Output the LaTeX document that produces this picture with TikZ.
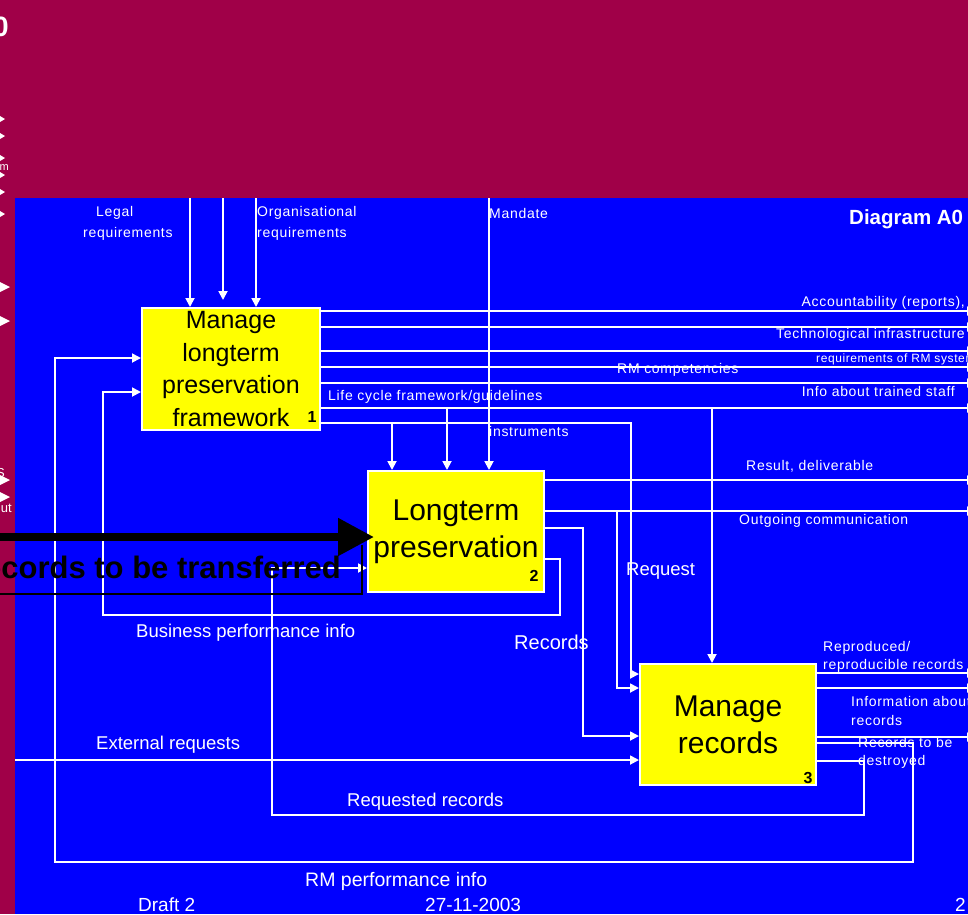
\documentclass[tikz,border=0pt]{standalone}
\usepackage{fontspec}
\setmainfont{Liberation Sans}
\newfontfamily\spacedsf[LetterSpace=5]{Liberation Sans}
\usetikzlibrary{arrows.meta,calc}
\definecolor{maroonbg}{RGB}{160,0,72}
\definecolor{bluebg}{RGB}{0,0,255}
\definecolor{boxyellow}{RGB}{255,255,0}
\begin{document}
\begin{tikzpicture}[x=1pt,y=-1pt,
  flow/.style={draw=white,line width=1.8pt,-{Triangle[length=9pt,width=9pt]}},
  wline/.style={draw=white,line width=1.8pt},
  actbox/.style={draw=white,line width=2pt,fill=boxyellow,inner sep=0pt,align=center,text=black},
  lbl/.style={text=white,inner sep=0pt,font=\spacedsf\fontsize{14}{16}\selectfont},
  slbl/.style={text=white,inner sep=0pt,font=\spacedsf\fontsize{12}{14}\selectfont},
  blbl/.style={text=white,inner sep=0pt,font=\fontsize{18.5}{21}\selectfont},
  num/.style={text=black,inner sep=0pt,font=\bfseries\fontsize{16}{18}\selectfont},
  tick/.style={fill=white},
]
\useasboundingbox (0,0) rectangle (968,914);
\clip (0,0) rectangle (968,914);
% backgrounds
\fill[maroonbg] (0,0) rectangle (968,914);
\fill[bluebg] (15,198) rectangle (968,914);

% remnants at the left edge
\node[anchor=east,inner sep=0pt,text=white,font=\bfseries\fontsize{28}{30}\selectfont] (rem0) at (9,27) {0};
\foreach \yy in {119,136,158,175,192,214}
  \fill[tick] (0,\yy-3) -- (5,\yy) -- (0,\yy+3) -- cycle;
\node[anchor=east,inner sep=0pt,text=white,font=\fontsize{11}{12}\selectfont] (remm) at (9,168) {m};
\foreach \yy in {287,321,480,497}
  \fill[tick] (0,\yy-5) -- (10,\yy) -- (0,\yy+5) -- cycle;
\node[anchor=east,inner sep=0pt,text=white,font=\fontsize{13}{14}\selectfont] (remS) at (5,473) {S};
\node[anchor=east,inner sep=0pt,text=white,font=\fontsize{13}{14}\selectfont] (remut) at (12,508) {ut};

% activity boxes
\node[actbox,minimum width=178pt,minimum height=122pt,font=\fontsize{25}{32.5}\selectfont] (b1) at (231,369) {Manage\\longterm\\preservation\\framework};
\node[actbox,minimum width=176pt,minimum height=121pt,font=\fontsize{30}{37}\selectfont] (b2) at (456,531.5) {Longterm\\preservation};
\node[actbox,minimum width=176pt,minimum height=121pt,font=\fontsize{30}{37}\selectfont] (b3) at (728,724.5) {Manage\\records};

% controls from the top
\coordinate (tL) at (190,198);
\coordinate (tM) at (223,198);
\coordinate (tMe) at (223,300);
\coordinate (tO) at (256,198);
\coordinate (tMan) at (489,198);
\draw[flow] (tL) -- (190,198 |- b1.north);
\draw[flow] (tM) -- (tMe);
\draw[flow] (tO) -- (256,198 |- b1.north);
\draw[flow] (tMan) -- (489,198 |- b2.north);

% outputs of box 1
\foreach \yy in {311,327,351,367,383,408}{
  \coordinate (R\yy) at (976,\yy);
  \draw[flow] (b1.east |- R\yy) -- (R\yy);
}
\draw[flow] (b1.east |- 0,423) -| (631,674) -- (b3.west |- 0,674);
\draw[flow] (392,423) -- (392,423 |- b2.north);
\draw[flow] (447,408) -- (447,408 |- b2.north);
\draw[flow] (712,408) -- (712,408 |- b3.north);

% outputs of box 2
\coordinate (R480) at (976,480);
\coordinate (R511) at (976,511);
\draw[flow] (b2.east |- R480) -- (R480);
\draw[flow] (b2.east |- R511) -- (R511);
\draw[flow] (617,511) |- (b3.west |- 0,688);
\draw[flow] (b2.east |- 0,528) -| (583,736) -- (b3.west |- 0,736);
\draw[flow] (b2.east |- 0,559) -| (560,615) -| (103,392) -- (b1.west |- 0,392);

% outputs of box 3
\coordinate (R673) at (976,673);
\coordinate (R688) at (976,688);
\coordinate (R737) at (976,737);
\draw[flow] (b3.east |- R673) -- (R673);
\draw[flow] (b3.east |- R688) -- (R688);
\draw[flow] (b3.east |- R737) -- (R737);
\draw[flow] (b3.east |- 0,743) -| (913,862) -| (55,358) -- (b1.west |- 0,358);
\draw[flow] (b3.east |- 0,761) -| (864,815) -| (272,568) -- (b2.west |- 0,568);

% external requests
\coordinate (extL) at (15,760);
\draw[flow] (extL) -- (b3.west |- extL);

% numbers in boxes
\node[num] (n1) at (312,417) {1};
\node[num] (n2) at (534,576) {2};
\node[num] (n3) at (808,778) {3};

% black transfer arrow
\coordinate (bkL) at (-10,537);
\coordinate (bkL2) at (-10,594);
\draw[black,line width=1.5pt] (bkL2) -- (362,594) -- (362,545);
\draw[black,line width=8pt,-{Triangle[length=36pt,width=36pt]}] (bkL) -- ($(b2.west |- bkL)+(7,0)$);
\node[anchor=east,inner sep=0pt,text=black,font=\bfseries\fontsize{31}{34}\selectfont] (rtt) at (341,567) {Records to be transferred};

% labels
\node[lbl,anchor=west] (lLeg1) at (96,213) {Legal};
\node[lbl,anchor=west] (lLeg2) at (83,234) {requirements};
\node[lbl,anchor=west] (lOrg1) at (257,213) {Organisational};
\node[lbl,anchor=west] (lOrg2) at (257,234) {requirements};
\node[lbl,anchor=west] (lMan) at (489,213) {Mandate};
\node[anchor=west,inner sep=0pt,text=white,font=\bfseries\fontsize{20.5}{23}\selectfont] (title) at (849,219) {Diagram A0};
\node[lbl,anchor=east] (lAcc) at (965,303) {Accountability (reports),};
\node[lbl,anchor=east] (lTech) at (965,335) {Technological infrastructure};
\node[slbl,anchor=west] (lReq) at (816,359) {requirements of RM system};
\node[lbl,anchor=west] (lComp) at (617,370) {RM competencies};
\node[lbl,anchor=east] (lInfo) at (955,391) {Info about trained staff};
\node[lbl,anchor=west] (lLife) at (328,397) {Life cycle framework/guidelines};
\node[lbl,anchor=west] (lInst) at (489,431) {instruments};
\node[lbl,anchor=west] (lRes) at (746,466) {Result, deliverable};
\node[lbl,anchor=west] (lOut) at (739,521) {Outgoing communication};
\node[blbl,anchor=west] (lRequest) at (626,571) {Request};
\node[blbl,anchor=west,font=\fontsize{20}{22}\selectfont] (lRecords) at (514,642) {Records};
\node[blbl,anchor=west] (lBus) at (136,633) {Business performance info};
\node[lbl,anchor=west] (lRep1) at (823,648) {Reproduced/};
\node[lbl,anchor=west] (lRep2) at (823,666) {reproducible records};
\node[lbl,anchor=west] (lInf1) at (851,701) {Information about};
\node[lbl,anchor=west] (lInf2) at (851,720) {records};
\node[lbl,anchor=west] (lDes1) at (858,742) {Records to be};
\node[lbl,anchor=west] (lDes2) at (858,762) {destroyed};
\node[blbl,anchor=west] (lExt) at (96,745) {External requests};
\node[blbl,anchor=west] (lReqRec) at (347,802) {Requested records};
\node[blbl,anchor=west,font=\fontsize{19.5}{22}\selectfont] (lRMp) at (305,881) {RM performance info};
\node[blbl,anchor=west,font=\fontsize{19}{21}\selectfont] (fDraft) at (138,905) {Draft 2};
\node[blbl,anchor=west,font=\fontsize{19}{21}\selectfont] (fDate) at (425,905) {27-11-2003};
\node[blbl,anchor=west,font=\fontsize{19}{21}\selectfont] (fPage) at (955,905) {2};
\end{tikzpicture}
\end{document}
